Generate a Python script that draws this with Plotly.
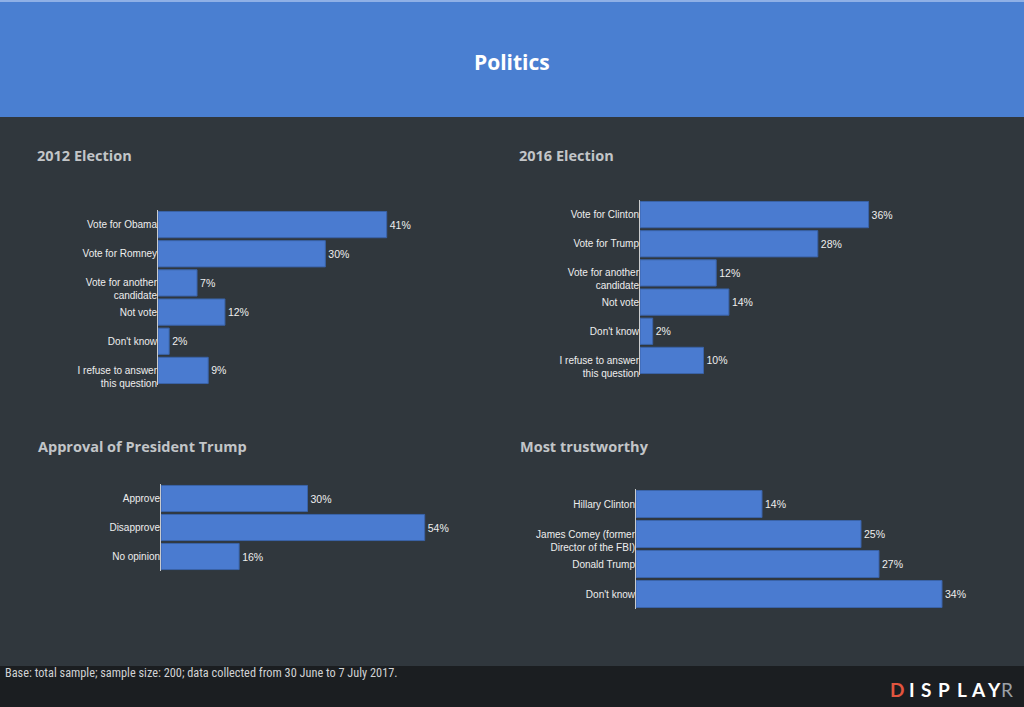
import plotly.graph_objects as go

W, H = 1024, 707

# ---- data ----
cats_2012 = ["Vote for Obama", "Vote for Romney", "Vote for another<br>candidate",
             "Not vote", "Don't know", "I refuse to answer<br>this question"]
vals_2012 = [41, 30, 7, 12, 2, 9]

cats_2016 = ["Vote for Clinton", "Vote for Trump", "Vote for another<br>candidate",
             "Not vote", "Don't know", "I refuse to answer<br>this question"]
vals_2016 = [36, 28, 12, 14, 2, 10]

cats_approval = ["Approve", "Disapprove", "No opinion"]
vals_approval = [30, 54, 16]

cats_trust = ["Hillary Clinton", "James Comey (former<br>Director of the FBI)",
              "Donald Trump", "Don't know"]
vals_trust = [14, 25, 27, 34]

titles = ["2012 Election", "2016 Election", "Approval of President Trump", "Most trustworthy"]
page_title = "Politics"
footer_text = "Base: total sample; sample size: 200; data collected from 30 June to 7 July 2017."

# ---- style ----
BG = "#30373d"
HEADER = "#4a7fd1"
FOOTER = "#1b1e21"
BAR = "#4a7bd0"
BAR_LINE = "#3a63a8"
TITLE_C = "#c2c5c8"
LABEL_C = "#eeeeee"
LABEL_FONT = "Liberation Sans, Arial, sans-serif"

# panel layout in pixels: (x_left, x_right, y_top, y_bottom, x_max, title_x, title_y)
panels = [
    (cats_2012, vals_2012, 158, 409, 210, 385, 45, 35, 155),
    (cats_2016, vals_2016, 640, 894, 200, 375, 40, 517, 155),
    (cats_approval, vals_approval, 161, 454, 484, 571, 60, 36, 447),
    (cats_trust, vals_trust, 636, 960, 489, 609, 36, 518, 447),
]


def tick_text(c):
    # multi-line labels: first line level with the bar centre
    return "\u00a0<br>" + c if "<br>" in c else c


fig = go.Figure()
annotations = []
for i, (cats, vals, xl, xr, yt, yb, xmax, tx, ty) in enumerate(panels):
    n = "" if i == 0 else str(i + 1)
    fig.add_trace(go.Bar(
        x=vals, y=cats, orientation="h",
        xaxis="x" + n, yaxis="y" + n,
        marker=dict(color=BAR, line=dict(color=BAR_LINE, width=1)),
        texttemplate="%{x}%", textposition="outside",
        textfont=dict(family=LABEL_FONT, size=10.5, color=LABEL_C),
        cliponaxis=False, constraintext="none", hoverinfo="skip", showlegend=False,
    ))
    fig.layout["xaxis" + n] = dict(
        domain=[xl / W, xr / W], range=[0, xmax], anchor="y" + n, automargin=False,
        showgrid=False, zeroline=False, showticklabels=False, showline=False, fixedrange=True,
    )
    fig.layout["yaxis" + n] = dict(
        domain=[1 - yb / H, 1 - yt / H], anchor="x" + n, autorange="reversed", automargin=False,
        showgrid=False, zeroline=False, showline=True, linecolor="#c9cbcd", linewidth=1,
        ticks="", ticklabelstandoff=-2,
        tickmode="array", tickvals=cats, ticktext=[tick_text(c) for c in cats],
        tickfont=dict(family=LABEL_FONT, size=10, color=LABEL_C),
        fixedrange=True,
    )
    annotations.append(dict(
        text="<b>%s</b>" % titles[i], x=tx / W, y=1 - ty / H, xref="paper", yref="paper",
        xanchor="left", yanchor="middle", showarrow=False,
        font=dict(family="Open Sans, sans-serif", size=14.5, color=TITLE_C),
    ))

annotations.append(dict(
    text="<b>%s</b>" % page_title, x=0.5, y=1 - 62 / H, xref="paper", yref="paper",
    xanchor="center", yanchor="middle", showarrow=False,
    font=dict(family="Open Sans, sans-serif", size=21, color="white"),
))
annotations.append(dict(
    text=footer_text, x=3 / W, y=1 - 673 / H, xref="paper", yref="paper",
    xanchor="left", yanchor="middle", showarrow=False,
    font=dict(family="Roboto Condensed, Liberation Sans Narrow, Open Sans, sans-serif",
              size=12.3, color="#d0d2d4"),
))

# logo letters
logo = "DISPLAYR"
logo_x = [896.5, 911.5, 925.5, 944, 962, 978.5, 994, 1006.5]
logo_colors = ["#e2553f", "white", "white", "white", "white", "white", "white", "#9aa0a6"]
for ch, lx, col in zip(logo, logo_x, logo_colors):
    annotations.append(dict(
        text="<b>%s</b>" % ch if ch != "R" else ch, x=lx / W, y=1 - 689 / H,
        xref="paper", yref="paper", xanchor="center", yanchor="middle", showarrow=False,
        font=dict(family="Lato, Open Sans, sans-serif", size=19, color=col),
    ))

shapes = [
    dict(type="rect", xref="paper", yref="paper", x0=0, x1=1, y0=1 - 117 / H, y1=1,
         fillcolor=HEADER, line=dict(width=0), layer="below"),
    dict(type="rect", xref="paper", yref="paper", x0=0, x1=1, y0=1 - 2 / H, y1=1,
         fillcolor="#8fb0e6", line=dict(width=0), layer="below"),
    dict(type="rect", xref="paper", yref="paper", x0=0, x1=1, y0=0, y1=1 - 666 / H,
         fillcolor=FOOTER, line=dict(width=0), layer="below"),
]

fig.update_layout(
    width=W, height=H, margin=dict(l=0, r=0, t=0, b=0, pad=0, autoexpand=False),
    paper_bgcolor=BG, plot_bgcolor="rgba(0,0,0,0)",
    bargap=0.1, annotations=annotations, shapes=shapes,
    font=dict(family=LABEL_FONT),
)

fig.write_html(
    "out.html", config={"displayModeBar": False},
    post_script=("document.body.style.margin='0';"
                 "document.body.style.overflow='hidden';"
                 "document.documentElement.style.overflow='hidden';"),
)
